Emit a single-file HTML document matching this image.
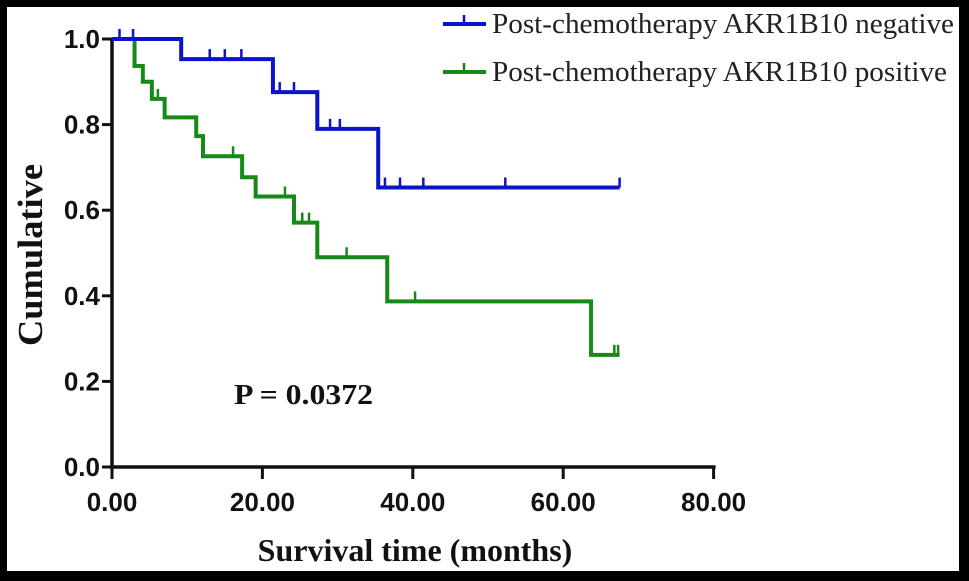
<!DOCTYPE html>
<html><head><meta charset="utf-8"><style>
html,body{margin:0;padding:0;background:#000;}
#wrap{position:relative;width:969px;height:581px;background:#000;overflow:hidden}
svg{position:absolute;left:0;top:0}
</style></head><body>
<div id="wrap">
<svg id="chart" width="969" height="581">
<rect x="7" y="7" width="952" height="564" fill="#fff"/>
</svg>
</div>
<script>
const xTicks=[0,20,40,60,80];
const xTickLabels=["0.00","20.00","40.00","60.00","80.00"];
const yTicks=[0,0.2,0.4,0.6,0.8,1.0];
const yTickLabels=["0.0","0.2","0.4","0.6","0.8","1.0"];
const negTimes=[0,9.2,21.4,27.3,35.4,67.5];
const negSurv=[1.0,0.953,0.876,0.79,0.653,0.653];
const negCensor=[1,2.8,13,15,17.2,22.3,24.2,29,30.3,36.3,38.3,41.4,52.3,67.5];
const posTimes=[0,3.0,4.1,5.3,7.0,11.2,12.1,17.3,19.1,24.2,27.3,36.6,63.7,67.5];
const posSurv=[1.0,0.937,0.90,0.86,0.817,0.773,0.726,0.677,0.632,0.571,0.49,0.387,0.262,0.262];
const posCensor=[6.1,16.1,23,25.3,26.2,31.2,40.3,66.8,67.3];
const seriesNames=["Post-chemotherapy AKR1B10 negative","Post-chemotherapy AKR1B10 positive"];

const NS="http://www.w3.org/2000/svg";
const svg=document.getElementById('chart');
const X=t=>112+t*7.52;
const Y=s=>467-s*428;
function mk(tag,attrs){const e=document.createElementNS(NS,tag);for(const k in attrs)e.setAttribute(k,attrs[k]);svg.appendChild(e);return e;}

let ax=mk('line',{x1:X(0),y1:Y(0),x2:X(80)+2,y2:Y(0),stroke:'#111','stroke-width':3.5});


let ay=mk('line',{x1:X(0),y1:Y(0)+2,x2:X(0),y2:Y(1)-1,stroke:'#111','stroke-width':3.5});



xTicks.forEach((v,i)=>{
  let t=mk('line',{x1:X(v),y1:Y(0),x2:X(v),y2:Y(0)+12,stroke:'#111','stroke-width':3});
  
  
  let l=mk('text',{x:X(v),y:511,'text-anchor':'middle','font-family':'Liberation Sans, sans-serif','font-weight':'bold','font-size':26,fill:'#111'});
  l.textContent=xTickLabels[i];
  
  
});
yTicks.forEach((v,i)=>{
  let t=mk('line',{x1:X(0)-10,y1:Y(v),x2:X(0),y2:Y(v),stroke:'#111','stroke-width':3});
  
  
  let l=mk('text',{x:100,y:Y(v)+9,'text-anchor':'end','font-family':'Liberation Sans, sans-serif','font-weight':'bold','font-size':26,fill:'#111'});
  l.textContent=yTickLabels[i];
  
  
});

function stepPath(ts,ss){let d=`M${X(ts[0])},${Y(ss[0])}`;for(let i=1;i<ts.length;i++){d+=` H${X(ts[i])} V${Y(ss[i])}`;}return d;}
function survAt(ts,ss,t){let s=ss[0];for(let i=0;i<ts.length;i++){if(ts[i]<=t)s=ss[i];}return s;}
function drawSeries(ts,ss,cens,color,name){
  let p=mk('path',{d:stepPath(ts,ss),fill:'none',stroke:color,'stroke-width':4});
  
  
  cens.forEach(c=>{
    const s=survAt(ts,ss,c);
    let m=mk('line',{x1:X(c),y1:Y(s),x2:X(c),y2:Y(s)-10,stroke:color,'stroke-width':2.5});
    
    
  });
}
drawSeries(posTimes,posSurv,posCensor,'#168a16','positive');
drawSeries(negTimes,negSurv,negCensor,'#0a14c8','negative');

[['#0a14c8',24],['#168a16',72]].forEach((c,i)=>{
  let l=mk('line',{x1:443,y1:c[1],x2:486,y2:c[1],stroke:c[0],'stroke-width':4});
  
  
  let m=mk('line',{x1:464,y1:c[1],x2:464,y2:c[1]-9,stroke:c[0],'stroke-width':2.5});
  
  
  let t=mk('text',{x:492,y:c[1]+9,'font-family':'Liberation Serif, serif','font-size':28,fill:'#222',textLength:i==0?462:455,lengthAdjust:'spacingAndGlyphs'});
  t.textContent=seriesNames[i];
  
  
});

let pv=mk('text',{x:234,y:404,'font-family':'Liberation Serif, serif','font-weight':'bold','font-size':28,fill:'#111',textLength:139,lengthAdjust:'spacingAndGlyphs'});
pv.textContent='P = 0.0372';



let xt=mk('text',{x:415,y:561,'text-anchor':'middle','font-family':'Liberation Serif, serif','font-weight':'bold','font-size':32,fill:'#111'});
xt.textContent='Survival time (months)';



let yt=mk('text',{x:0,y:0,'text-anchor':'middle','font-family':'Liberation Serif, serif','font-weight':'bold','font-size':35,fill:'#111',textLength:182,lengthAdjust:'spacingAndGlyphs',transform:'translate(42,255) rotate(-90)'});
yt.textContent='Cumulative';


</script>
</body></html>
